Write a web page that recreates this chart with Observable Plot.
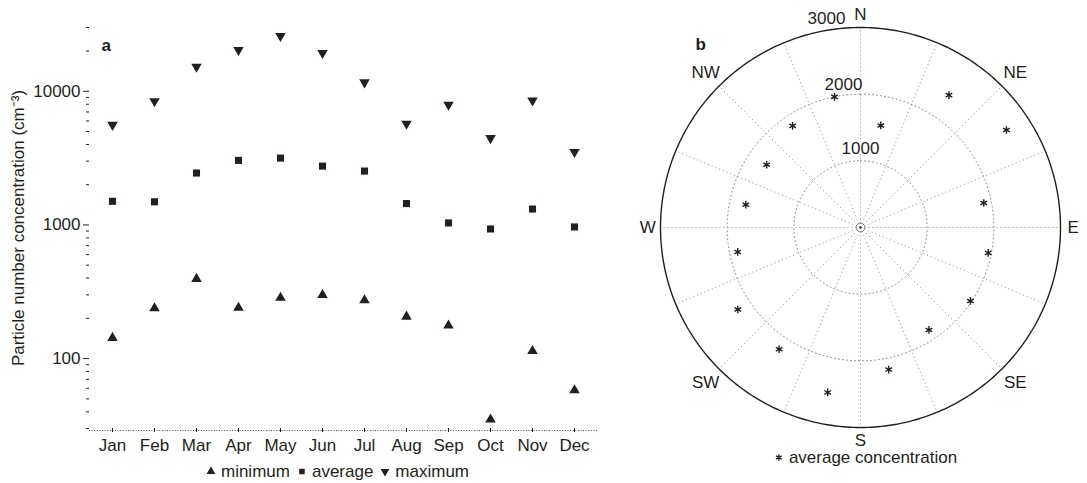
<!DOCTYPE html>
<html><head><meta charset="utf-8">
<script src="https://cdn.jsdelivr.net/npm/d3@7"></script>
<script src="https://cdn.jsdelivr.net/npm/@observablehq/plot@0.6"></script>
<style>
body{margin:0;background:#fff;font-family:"Liberation Sans",Arial,Helvetica,sans-serif;color:#231f20}
#wrap{position:relative;width:1087px;height:483px;overflow:hidden;background:#fff}
#left{position:absolute;left:0;top:0}
#right{position:absolute;left:620px;top:0}
.legend{position:absolute;font-size:17px;white-space:nowrap;display:flex;align-items:center;transform:translate(-50%,-50%);line-height:1}
.legend svg{margin-right:4px}
.legend span{margin-right:6px}
</style></head><body>
<div id="wrap"><div id="left"></div><div id="right"></div>
<div id="legA" class="legend" style="left:340px;top:471px"></div>
<div id="legB" class="legend" style="left:868px;top:457px"></div></div>
<script>
// ---- panel a data ----
const months = ["Jan","Feb","Mar","Apr","May","Jun","Jul","Aug","Sep","Oct","Nov","Dec"];
const minimum = [143, 238, 395, 240, 285, 299, 273, 206, 177, 35, 114, 58];
const average = [1503, 1490, 2445, 3040, 3162, 2755, 2530, 1445, 1035, 933, 1315, 966];
const maximum = [5610, 8420, 15280, 20370, 25900, 19360, 11670, 5710, 7930, 4460, 8530, 3510];
const yMajorTicks = [100, 1000, 10000];
const yMinorTicks = [30,40,50,60,70,80,90,200,300,400,500,600,700,800,900,2000,3000,4000,5000,6000,7000,8000,9000,20000,30000];
const seriesNames = ["minimum","average","maximum"];

// ---- panel b data ----
const sectorDirections = [11.25,33.75,56.25,78.75,101.25,123.75,146.25,168.75,191.25,213.75,236.25,258.75,281.25,303.75,326.25,348.75];
const averageConcentration = [1561, 2388, 2633, 1885, 1953, 1983, 1848, 2173, 2522, 2196, 2214, 1878, 1754, 1694, 1833, 1998];
const compassLabels = ["N","NE","E","SE","S","SW","W","NW"];
const compassAngles = [0,45,90,135,180,225,270,315];
const ringValues = [1000, 2000, 3000];
const radialAngles = d3.range(0, 360, 22.5);

const ink = "#231f20";
const font = '"Liberation Sans",Arial,Helvetica,sans-serif';

// ---- panel a ----
const rows = months.map((m, i) => ({month: m, minimum: minimum[i], average: average[i], maximum: maximum[i]}));
const left = Plot.plot({
  width: 610, height: 460,
  marginLeft: 89, marginRight: 13, marginTop: 27, marginBottom: 32,
  style: {fontFamily: font, fontSize: "17px", color: ink, background: "white", overflow: "visible"},
  x: {type: "point", domain: months, padding: 0.5, label: null},
  y: {type: "log", domain: [30, 30000], label: null},
  marks: [
    Plot.ruleY([30], {dy: 2, stroke: ink, strokeDasharray: "1,1.6", strokeOpacity: 0.8}),
    Plot.axisY(yMinorTicks, {tickSize: 3, tickFormat: () => "", label: null, stroke: ink}),
    Plot.axisY(yMajorTicks, {tickSize: 6, tickPadding: 3, tickFormat: d => String(d), label: null, line: true, stroke: ink, fill: ink}),
    Plot.axisX({tickSize: 4, tickPadding: 6, label: null, line: true, stroke: ink, fill: ink}),
    Plot.dot(rows, {x: "month", y: "minimum", symbol: "triangle", r: 3.9, fill: ink}),
    Plot.dot(rows, {x: "month", y: "average", symbol: "square", r: 4, fill: ink}),
    Plot.dot(rows, {x: "month", y: "maximum", symbol: "triangle", rotate: 180, r: 3.9, fill: ink}),
    Plot.text(["Particle number concentration (cm⁻³)"], {frameAnchor: "left", textAnchor: "middle", rotate: -90, dx: -71, text: d => d, fontSize: 17, fill: ink}),
    Plot.text(["a"], {frameAnchor: "top-left", dx: 12, dy: 11, text: d => d, fontWeight: "bold", fontSize: 17, fill: ink})
  ]
});
document.getElementById("left").append(left);

// ---- panel b ----
const rad = a => a * Math.PI / 180;
const px = (v, a) => v * Math.sin(rad(a));
const py = (v, a) => v * Math.cos(rad(a));
const polarPts = sectorDirections.map((a, i) => ({angle: a, value: averageConcentration[i]}));
const circlePts = r => d3.range(0, 361, 1).map(a => ({ring: r, a}));
const innerRings = ringValues.filter(r => r < 3000).flatMap(circlePts);
const outerRing = circlePts(3000);
const centerRing = circlePts(65);
const compass = compassLabels.map((t, i) => ({t, a: compassAngles[i], r: i % 2 ? 3285 : 3190}));
const grid = "#8c8c8c";

const right = Plot.plot({
  width: 467, height: 445,
  marginLeft: 40, marginRight: 27, marginTop: 27, marginBottom: 18,
  style: {fontFamily: font, fontSize: "17px", color: ink, background: "white", overflow: "visible"},
  x: {domain: [-3000, 3000], axis: null},
  y: {domain: [-3000, 3000], axis: null},
  marks: [
    Plot.link(radialAngles, {x1: 0, y1: 0, x2: a => px(3000, a), y2: a => py(3000, a), stroke: grid, strokeDasharray: "1,3", strokeWidth: 1}),
    Plot.line(innerRings, {x: d => px(d.ring, d.a), y: d => py(d.ring, d.a), z: "ring", stroke: grid, strokeDasharray: "1,3", strokeWidth: 1}),
    Plot.line(centerRing, {x: d => px(d.ring, d.a), y: d => py(d.ring, d.a), stroke: "#555", strokeDasharray: "1,1.5", strokeWidth: 1}),
    Plot.dot([0], {x: 0, y: 0, r: 1, fill: ink}),
    Plot.line(outerRing, {x: d => px(d.ring, d.a), y: d => py(d.ring, d.a), stroke: ink, strokeWidth: 1.4}),
    Plot.text(["1000"], {x: 0, y: 1000, dy: -12, text: d => d, fill: ink, stroke: "white", strokeWidth: 3}),
    Plot.text(["2000"], {x: 0, y: 2000, dx: -17, dy: -10, text: d => d, fill: ink, stroke: "white", strokeWidth: 3}),
    Plot.text(["3000"], {x: 0, y: 3000, dx: -34, dy: -9, text: d => d, fill: ink, stroke: "white", strokeWidth: 3}),
    Plot.text(compass, {x: d => px(d.r, d.a), y: d => py(d.r, d.a), text: "t", fill: ink, fontSize: 17}),
    Plot.dot(polarPts, {x: d => px(d.value, d.angle), y: d => py(d.value, d.angle), symbol: "asterisk", r: 3.6, stroke: ink, strokeWidth: 1.4}),
    Plot.text(["b"], {frameAnchor: "top-left", dx: 35, dy: 10, text: d => d, fontWeight: "bold", fontSize: 17, fill: ink})
  ]
});
document.getElementById("right").append(right);

// ---- legends ----
function sym(type, rotate, size, stroke) {
  const s = d3.select(document.createElementNS("http://www.w3.org/2000/svg", "svg")).attr("width", 12).attr("height", 12).attr("viewBox", "-6 -6 12 12");
  s.append("path").attr("d", d3.symbol(type, size)()).attr("transform", `rotate(${rotate})`)
    .attr("fill", stroke ? "none" : ink).attr("stroke", stroke ? ink : "none").attr("stroke-width", 1.3);
  return s.node();
}
const legA = document.getElementById("legA");
const symbols = [[d3.symbolTriangle, 0], [d3.symbolSquare, 0], [d3.symbolTriangle, 180]];
seriesNames.forEach((n, i) => {
  legA.append(sym(symbols[i][0], symbols[i][1], i === 1 ? 30 : 34, false));
  const sp = document.createElement("span"); sp.textContent = n; legA.append(sp);
});
const legB = document.getElementById("legB");
legB.append(sym(d3.symbolAsterisk, 0, 30, true));
const spb = document.createElement("span"); spb.textContent = "average concentration"; legB.append(spb);
</script>
</body></html>
